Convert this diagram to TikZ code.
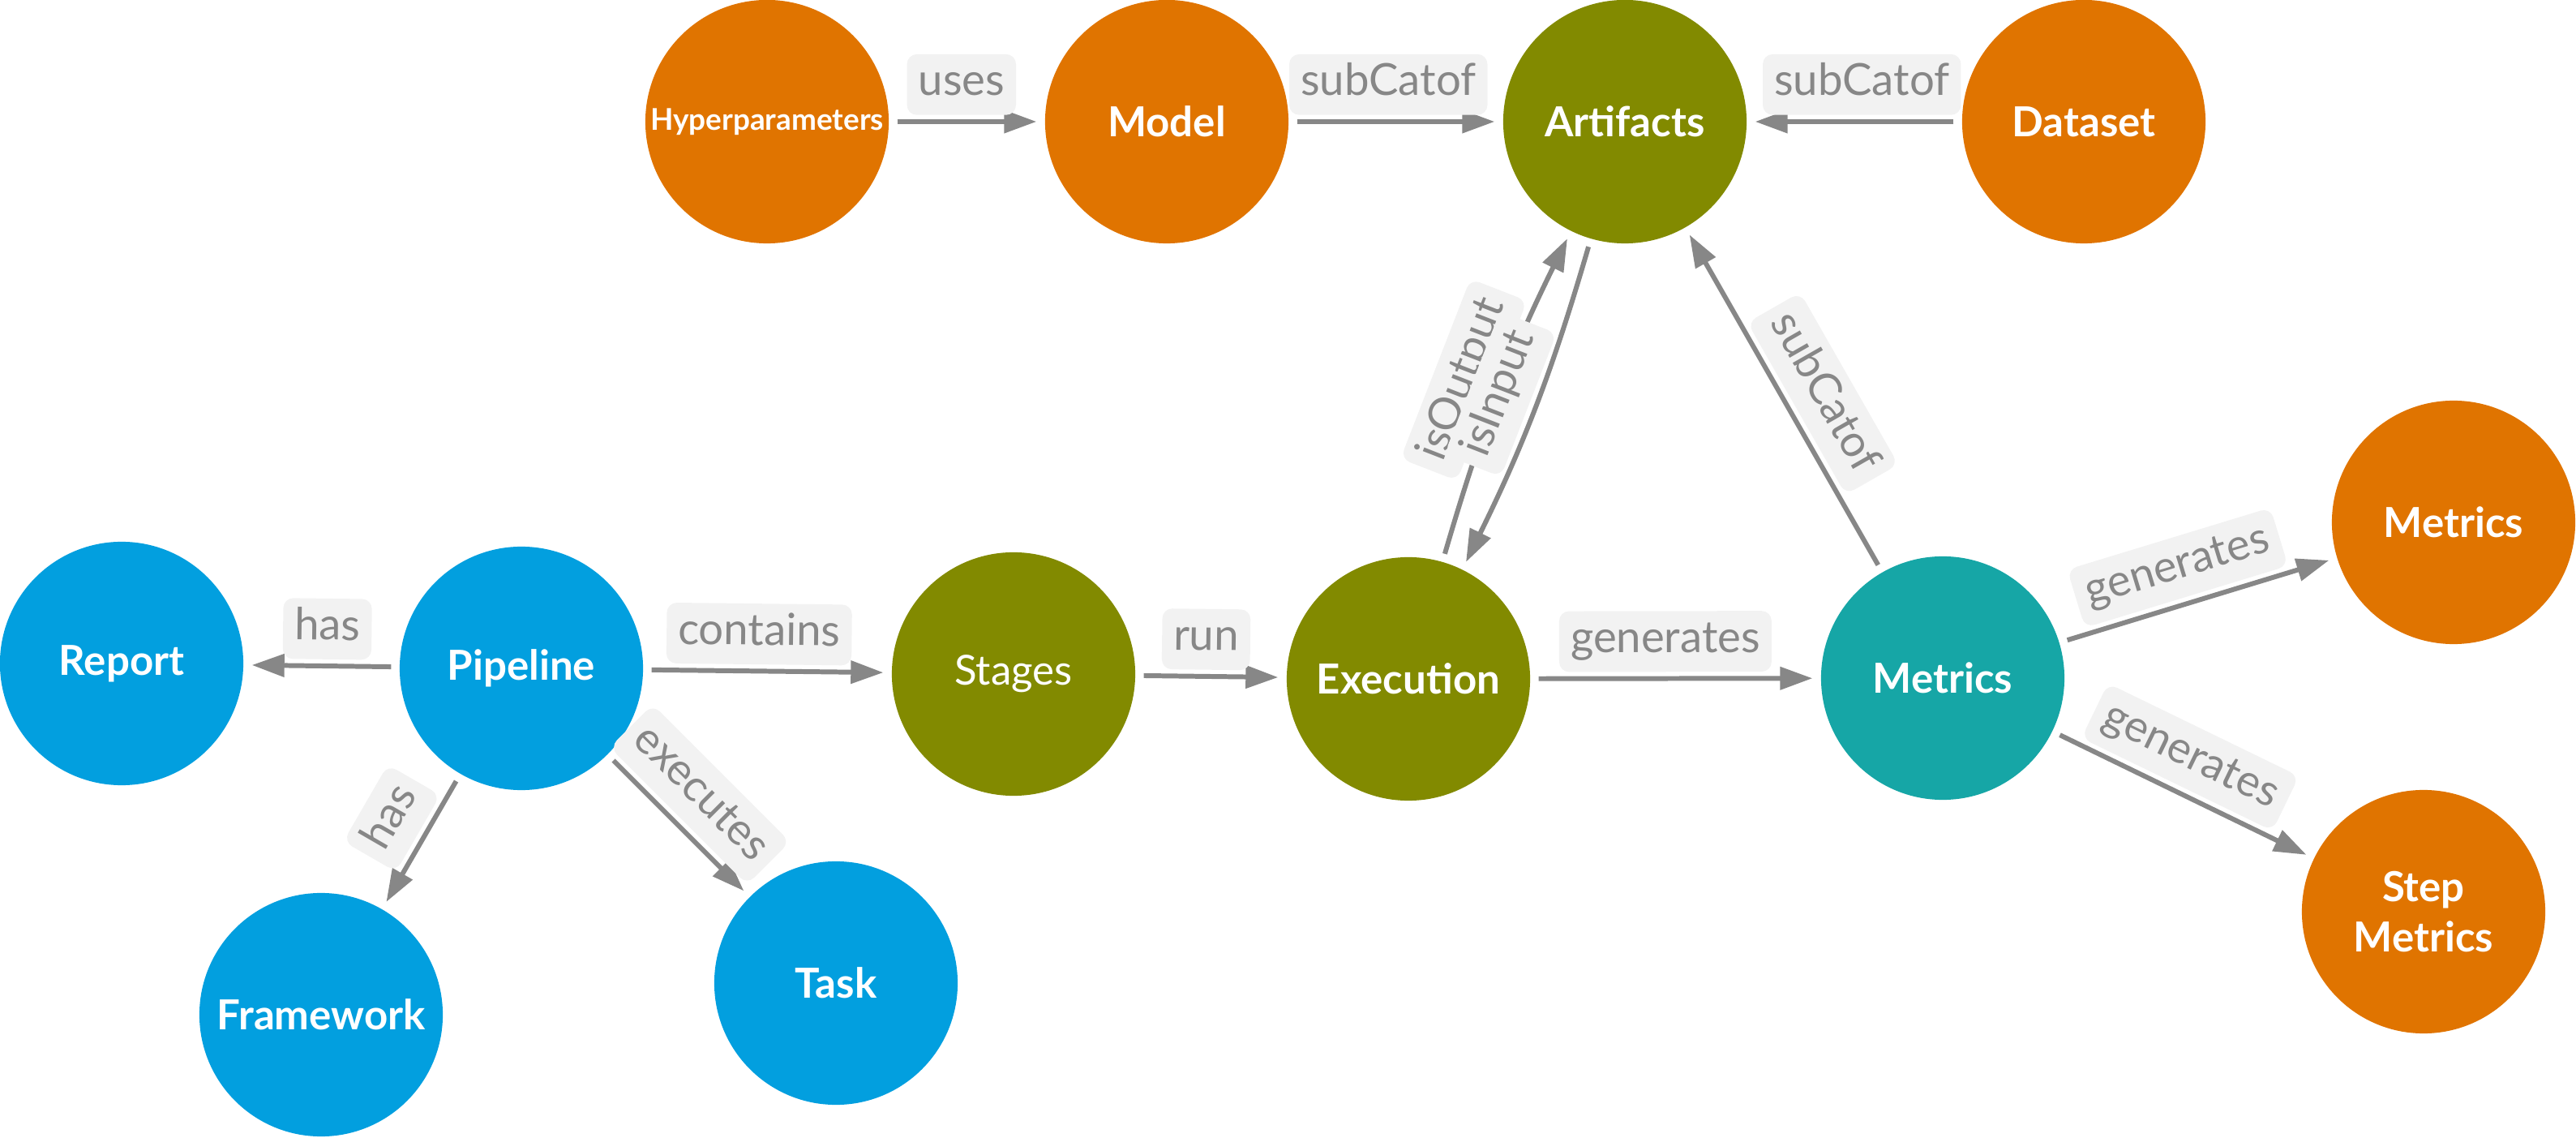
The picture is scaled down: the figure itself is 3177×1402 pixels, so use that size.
\documentclass[tikz,border=0pt]{standalone}
\usepackage{fontspec}
\setmainfont{Lato}
\usetikzlibrary{arrows.meta}
\definecolor{cOrange}{HTML}{E07400}
\definecolor{cOlive}{HTML}{828A00}
\definecolor{cBlue}{HTML}{029FDF}
\definecolor{cTeal}{HTML}{16A6A6}
\definecolor{cLine}{HTML}{878787}
\definecolor{cLabelBg}{HTML}{F2F2F2}
\begin{document}
\begin{tikzpicture}[x=0.01cm,y=0.01cm,
  ent/.style={circle, minimum size=3cm, inner sep=0pt, text=white,
    font=\fontsize{14.5}{17.5}\selectfont\bfseries, align=center},
  nOrange/.style={ent, fill=cOrange},
  nOlive/.style={ent, fill=cOlive},
  nBlue/.style={ent, fill=cBlue},
  nTeal/.style={ent, fill=cTeal},
  rel/.style={draw=cLine, line width=1.7pt,
    -{Triangle[length=11.4pt,width=7.8pt]},
    shorten <=2.8pt, shorten >=2.8pt},
  lbl/.style={fill=cLabelBg, text=cLine, rounded corners=3.5pt,
    font=\fontsize{15.5}{18}\selectfont, text height=11.5pt, text depth=3.8pt,
    inner xsep=4pt, inner ysep=3pt, sloped, above=1.5pt, pos=0.465},
  lblmid/.style={lbl, pos=0.5, above=0pt}
]
\useasboundingbox (0,0) rectangle (3177,1402);

% nodes
\node[nOrange, font=\fontsize{10.5}{12}\selectfont\bfseries] (hyper) at (946,1252) {Hyperparameters};
\node[nOrange] (model) at (1439,1252) {Model};
\node[nOlive]  (art)   at (2004,1252) {Artifacts};
\node[nOrange] (data)  at (2570,1252) {Dataset};
\node[nBlue]   (report) at (150,584) {Report};
\node[nBlue]   (pipe)  at (643,578) {Pipeline};
\node[nOlive, font=\fontsize{14.5}{17.5}\selectfont] (stages) at (1250,571) {Stages};
\node[nOlive]  (exec)  at (1737,565) {Execution};
\node[nTeal]   (metrics) at (2396,566) {Metrics};
\node[nOrange] (mout)  at (3026,758) {Metrics};
\node[nOrange] (step)  at (2989,278) {Step\\Metrics};
\node[nBlue]   (frame) at (396,151) {Framework};
\node[nBlue]   (task)  at (1031,190) {Task};

% connectors
\draw[rel] (hyper) -- node[lbl]{uses} (model);
\draw[rel] (model) -- node[lbl]{subCatof} (art);
\draw[rel] (data) -- node[lbl]{subCatof} (art);
\draw[rel] (pipe) -- node[lbl]{has} (report);
\draw[rel] (pipe) -- node[lbl]{contains} (stages);
\draw[rel] (pipe) -- node[lbl]{has} (frame);
\draw[rel] (pipe) -- node[lbl]{executes} (task);
\draw[rel] (stages) -- node[lbl]{run} (exec);
\draw[rel] (exec) -- node[lbl]{generates} (metrics);
\draw[rel] (exec) to[bend left=5] node[lblmid]{isOutput} (art);
\draw[rel] (art) to[bend left=5] node[lblmid]{isInput} (exec);
\draw[rel] (metrics) -- node[lbl]{subCatof} (art);
\draw[rel] (metrics) -- node[lbl]{generates} (mout);
\draw[rel] (metrics) -- node[lbl]{generates} (step);
\end{tikzpicture}
\end{document}
